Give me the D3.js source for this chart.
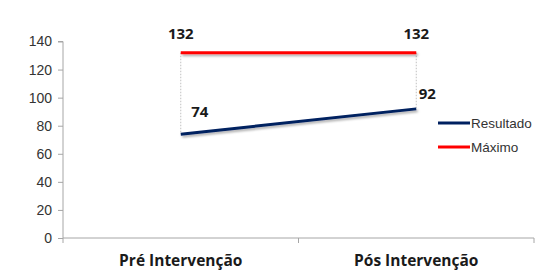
<!DOCTYPE html>
<html><head><meta charset="utf-8">
<script src="https://cdn.jsdelivr.net/npm/d3@7"></script>
<style>body{margin:0;background:#fff}svg{display:block}</style>
</head><body>
<script>
const categories = ["Pré Intervenção", "Pós Intervenção"];
const resultado = [74, 92];
const maximo = [132, 132];
const yTicks = [0, 20, 40, 60, 80, 100, 120, 140];

const W = 543, H = 276;
const svg = d3.select("body").append("svg").attr("width", W).attr("height", H);
const defs = svg.append("defs");
const f = defs.append("filter").attr("id","sh").attr("filterUnits","userSpaceOnUse")
  .attr("x",0).attr("y",0).attr("width",W).attr("height",H);
f.append("feDropShadow").attr("dx",1.5).attr("dy",2).attr("stdDeviation",1.2).attr("flood-color","#000").attr("flood-opacity",0.3);

const x = d3.scaleBand().domain(categories).range([63, 534]);
const y = d3.scaleLinear().domain([0, 140]).range([238, 41.5]);
const cx = c => x(c) + x.bandwidth() / 2;

// y axis
const ya = svg.append("g").attr("transform","translate(63,0)")
  .call(d3.axisLeft(y).tickValues(yTicks).tickSize(5).tickPadding(6));
ya.select(".domain").attr("stroke","#a6a6a6").attr("d","M-5,41.5H0V238");
ya.selectAll(".tick line").attr("stroke","#a6a6a6");
ya.selectAll(".tick text").attr("font-family","Liberation Sans, Arial, sans-serif").attr("font-size",14).attr("fill","#333");

// x axis
const xa = svg.append("g").attr("transform","translate(0,238)")
  .call(d3.axisBottom(x).tickSize(0).tickPadding(17));
xa.select(".domain").attr("stroke","#a6a6a6").attr("d","M63,0H534");
xa.selectAll(".tick text").attr("font-family","Open Sans, DejaVu Sans, sans-serif").attr("font-size",15.5).attr("font-weight","bold").attr("fill","#1a1a1a");
[63, x(categories[1]), 534].forEach(v => {
  xa.append("line").attr("x1",v).attr("x2",v).attr("y1",0).attr("y2",5).attr("stroke","#a6a6a6");
});

// drop lines
categories.forEach((c,i) => {
  svg.append("line").attr("x1",cx(c)).attr("x2",cx(c))
    .attr("y1",y(maximo[i])).attr("y2",y(resultado[i]))
    .attr("stroke","#b0b0b0").attr("stroke-width",0.8).attr("stroke-dasharray","1.5,1.5");
});

const line = d3.line().x((d,i) => cx(categories[i])).y(d => y(d));
svg.append("path").datum(maximo).attr("d",line).attr("fill","none")
  .attr("stroke","#ff0000").attr("stroke-width",3).attr("filter","url(#sh)");
svg.append("path").datum(resultado).attr("d",line).attr("fill","none")
  .attr("stroke","#002060").attr("stroke-width",3).attr("filter","url(#sh)");

// labels
const lf = "Open Sans, DejaVu Sans, sans-serif";
categories.forEach((c,i) => {
  svg.append("text").attr("x",cx(c)).attr("y",y(maximo[i]) - 14).attr("text-anchor","middle")
    .attr("font-family",lf).attr("font-size",15).attr("font-weight","bold").attr("fill","#1a1a1a").text(maximo[i]);
});
svg.append("text").attr("x",cx(categories[0]) + 19).attr("y",y(resultado[0]) - 17).attr("text-anchor","middle")
  .attr("font-family",lf).attr("font-size",15).attr("font-weight","bold").attr("fill","#1a1a1a").text(resultado[0]);
svg.append("text").attr("x",cx(categories[1]) + 11).attr("y",y(resultado[1]) - 10).attr("text-anchor","middle")
  .attr("font-family",lf).attr("font-size",15).attr("font-weight","bold").attr("fill","#1a1a1a").text(resultado[1]);

// legend
const legend = [["Resultado","#002060"],["Máximo","#ff0000"]];
legend.forEach((d,i) => {
  const ly = 123 + i * 24;
  svg.append("line").attr("x1",438).attr("x2",470).attr("y1",ly).attr("y2",ly)
    .attr("stroke",d[1]).attr("stroke-width",3);
  svg.append("text").attr("x",471).attr("y",ly + 4.5).attr("font-family","Liberation Sans, Arial, sans-serif")
    .attr("font-size",13.5).attr("fill","#333").text(d[0]);
});
</script>
</body></html>
